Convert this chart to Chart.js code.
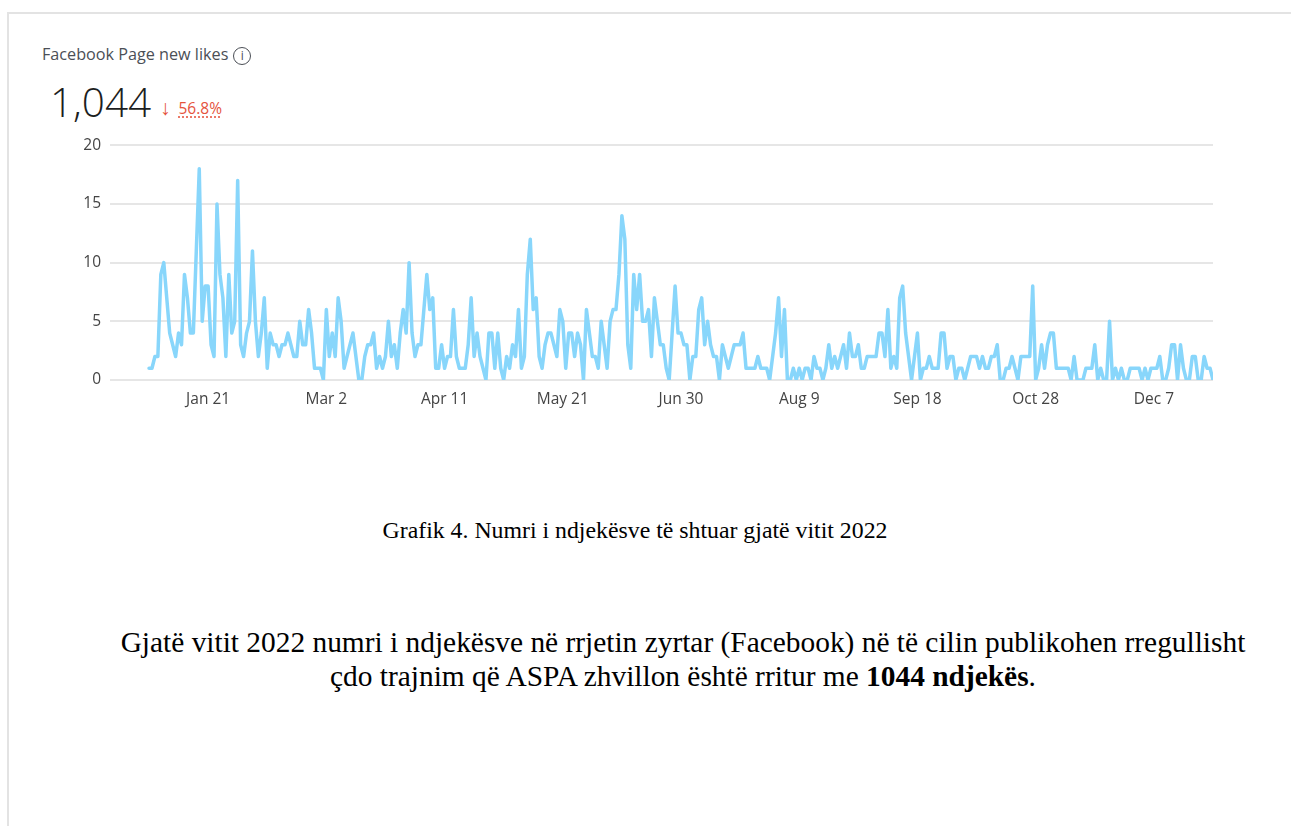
<!DOCTYPE html>
<html>
<head>
<meta charset="utf-8">
<script src="https://cdn.jsdelivr.net/npm/chart.js@4.4.0/dist/chart.umd.min.js"></script>
<style>
  html, body { margin: 0; padding: 0; background: #fff; }
  body { width: 1291px; height: 826px; position: relative; overflow: hidden; font-family: "Open Sans", "Noto Sans", sans-serif; }
  .frame { position: absolute; left: 7px; top: 12px; width: 1300px; height: 830px; border-top: 2px solid #e3e3e3; border-left: 2px solid #e3e3e3; }
  .title { position: absolute; left: 42px; top: 43px; font-size: 16.2px; line-height: 22px; color: #4b4f56; white-space: nowrap; }
  .info { display: inline-block; width: 16px; height: 16px; border: 1.4px solid #4b4f56; border-radius: 50%; font-size: 12px; line-height: 16px; text-align: center; margin-left: 5px; vertical-align: 0px; box-sizing: content-box; }
  .total { position: absolute; left: 50px; top: 78px; font-size: 40.5px; line-height: 48px; font-weight: 300; color: #1c1e21; }
  .change { position: absolute; left: 160px; top: 96px; font-size: 15.5px; line-height: 22px; color: #e5533d; white-space: nowrap; }
  .change b { font-weight: 400; font-size: 21px; vertical-align: -1px; }
  .change span { text-decoration: underline dotted #e5533d; text-underline-offset: 3px; margin-left: 8px; }
  #chart { position: absolute; left: 40px; top: 127px; }
  .caption { position: absolute; left: 0; top: 516px; width: 1270px; text-align: center; font-family: "Liberation Serif", "DejaVu Serif", serif; font-size: 23.8px; line-height: 28px; color: #000; white-space: nowrap; }
  .para { position: absolute; left: 83px; top: 625px; width: 1200px; text-align: center; font-family: "Liberation Serif", "DejaVu Serif", serif; font-size: 29.4px; line-height: 34px; color: #000; white-space: nowrap; }
</style>
</head>
<body>
<div class="frame"></div>
<div class="title">Facebook Page new likes<span class="info">i</span></div>
<div class="total">1,044</div>
<div class="change"><b>&#8595;</b><span>56.8%</span></div>
<canvas id="chart" width="1190" height="281"></canvas>
<div class="caption">Grafik 4. Numri i ndjekësve të shtuar gjatë vitit 2022</div>
<div class="para">Gjatë vitit 2022 numri i ndjekësve në rrjetin zyrtar (Facebook) në të cilin publikohen rregullisht<br>çdo trajnim që ASPA zhvillon është rritur me <b>1044 ndjekës</b>.</div>
<script>
// daily new page likes, 1 Jan 2022 onward (index = day of year)
const newLikes = [
  1,1,2,2,9,10,7,4,3,2,
  4,3,9,7,4,4,11,18,5,8,
  8,3,2,15,9,7,2,9,4,5,
  17,3,2,4,5,11,5,2,4,7,
  1,4,3,3,2,3,3,4,3,2,
  2,5,3,3,6,4,1,1,1,0,
  6,2,4,2,7,5,1,2,3,4,
  2,0,0,2,3,3,4,1,2,1,
  2,5,2,3,1,4,6,4,10,4,
  2,3,3,6,9,6,7,1,1,3,
  1,2,2,6,2,1,1,1,3,7,
  2,4,2,1,0,4,4,1,4,1,
  0,2,1,3,2,6,1,2,9,12,
  6,7,2,1,3,4,4,3,2,6,
  5,1,4,4,2,4,3,0,6,4,
  2,2,1,5,3,1,5,6,6,9,
  14,12,3,1,9,6,9,5,5,6,
  2,7,5,3,3,1,0,4,8,4,
  4,3,3,0,2,2,6,7,3,5,
  3,2,2,0,3,2,1,2,3,3,
  3,4,1,1,1,1,2,1,1,1,
  0,2,4,7,2,6,0,0,1,0,
  1,0,1,1,0,2,1,1,0,1,
  3,1,2,1,2,3,1,4,2,2,
  3,1,1,2,2,2,2,4,4,2,
  6,1,2,1,7,8,4,2,0,2,
  4,0,1,1,2,1,1,1,4,4,
  1,2,2,0,1,1,0,1,2,2,
  2,1,2,1,1,2,2,3,0,0,
  1,1,2,1,0,2,2,2,2,8,
  0,1,3,1,3,4,4,1,1,1,
  1,1,0,2,0,0,0,1,1,1,
  3,0,1,0,0,5,0,1,0,1,
  0,0,1,1,1,1,0,1,0,1,
  1,1,2,0,0,1,3,3,0,3,
  1,0,0,2,2,0,0,2,1,1,
  0
];
const tickDays = [20, 60, 100, 140, 180, 220, 260, 300, 340];
const tickLabels = ['Jan 21', 'Mar 2', 'Apr 11', 'May 21', 'Jun 30', 'Aug 9', 'Sep 18', 'Oct 28', 'Dec 7'];
const yTicks = [0, 5, 10, 15, 20];

const tickFont = { family: 'Open Sans', size: 15.5 };

const ctx = document.getElementById('chart');
new Chart(ctx, {
  type: 'line',
  data: {
    datasets: [{
      data: newLikes.map((v, i) => ({ x: i, y: v })),
      borderColor: '#88d6fb',
      borderWidth: 3.5,
      pointRadius: 0,
      tension: 0,
      borderJoinStyle: 'round',
      borderCapStyle: 'round'
    }]
  },
  options: {
    responsive: false,
    animation: false,
    layout: { padding: { top: 11, right: 17, bottom: 0, left: 0 } },
    plugins: { legend: { display: false }, tooltip: { enabled: false } },
    scales: {
      x: {
        type: 'linear',
        min: -13.2,
        max: 360,
        grid: { display: false },
        border: { display: false },
        afterBuildTicks: s => { s.ticks = tickDays.map(v => ({ value: v })); },
        ticks: {
          autoSkip: false,
          maxRotation: 0,
          padding: 2,
          color: '#444',
          font: tickFont,
          callback: v => tickLabels[tickDays.indexOf(v)]
        },
        afterFit: s => { s.height = 28; }
      },
      y: {
        min: 0,
        max: 20,
        afterBuildTicks: s => { s.ticks = yTicks.map(v => ({ value: v })); },
        grid: { color: '#e6e6e6', lineWidth: 2, drawTicks: false },
        border: { display: false },
        ticks: { padding: 9, color: '#444', font: tickFont },
        afterFit: s => { s.width = 70; }
      }
    }
  }
});
</script>
</body>
</html>
